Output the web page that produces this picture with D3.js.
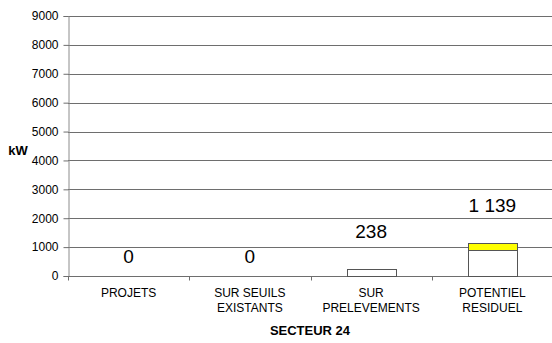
<!DOCTYPE html>
<html>
<head>
<meta charset="utf-8">
<script src="https://cdn.jsdelivr.net/npm/d3@7"></script>
<style>
  html, body { margin: 0; padding: 0; background: #fff; }
  svg { display: block; font-family: "Liberation Sans", Arial, Helvetica, sans-serif; }
</style>
</head>
<body>
<svg id="chart" width="552" height="343"></svg>
<script>
// Hydro-electric potential, sector 24 (kW)
const categories = [["PROJETS"], ["SUR SEUILS", "EXISTANTS"], ["SUR", "PRELEVEMENTS"], ["POTENTIEL", "RESIDUEL"]];
const baseValues = [0, 0, 238, 900];     // white part of each bar
const extraValues = [0, 0, 0, 239];      // yellow part stacked on top
const totalLabels = ["0", "0", "238", "1 139"];
const yTicks = [0, 1000, 2000, 3000, 4000, 5000, 6000, 7000, 8000, 9000];
const axisTitle = "kW";
const chartTitle = "SECTEUR 24";

const svg = d3.select("#chart");
const margin = { left: 68, right: 0, top: 16, bottom: 67 };
const W = 552, H = 343;

const x = d3.scaleBand()
  .domain(d3.range(categories.length))
  .range([margin.left, W + 1])
  .paddingInner(0.6)
  .paddingOuter(0.3);
const xOuter = d3.scaleBand().domain(d3.range(categories.length)).range([margin.left, W + 1]);
const y = d3.scaleLinear().domain([0, 9000]).range([H - margin.bottom, margin.top]);

// horizontal gridlines
svg.append("g")
  .selectAll("line")
  .data(yTicks.filter(d => d > 0))
  .join("line")
  .attr("x1", margin.left).attr("x2", W)
  .attr("y1", d => Math.round(y(d)) + 0.5).attr("y2", d => Math.round(y(d)) + 0.5)
  .attr("stroke", "#6e6e6e").attr("stroke-width", 1);

// y axis
const yAxis = svg.append("g")
  .attr("transform", `translate(${margin.left + 0.5},0)`)
  .call(d3.axisLeft(y).tickValues(yTicks).tickFormat(d3.format("d")).tickSize(5).tickPadding(5));
yAxis.select(".domain").attr("stroke", "#8c8c8c");
yAxis.selectAll(".tick line").attr("stroke", "#6e6e6e");
yAxis.selectAll(".tick text").attr("font-size", 12).attr("fill", "#000")
  .attr("font-family", "Liberation Sans, Arial, sans-serif");

// x axis line and category ticks
const baseY = Math.round(y(0)) + 0.5;
svg.append("line").attr("x1", margin.left).attr("x2", W).attr("y1", baseY).attr("y2", baseY)
  .attr("stroke", "#6e6e6e");
svg.append("g").selectAll("line")
  .data(d3.range(categories.length))
  .join("line")
  .attr("x1", i => Math.round(xOuter(i)) + 0.5).attr("x2", i => Math.round(xOuter(i)) + 0.5)
  .attr("y1", baseY).attr("y2", baseY + 4)
  .attr("stroke", "#6e6e6e");

// bars: white base
svg.append("g").selectAll("rect")
  .data(baseValues.map((v, i) => ({ v, i })).filter(d => d.v > 0))
  .join("rect")
  .attr("x", d => Math.round(x(d.i)) + 0.5)
  .attr("width", Math.round(x.bandwidth()))
  .attr("y", d => Math.round(y(d.v)) + 0.5)
  .attr("height", d => Math.round(y(0)) - Math.round(y(d.v)))
  .attr("fill", "#fff").attr("stroke", "#555");

// bars: yellow top
svg.append("g").selectAll("rect")
  .data(extraValues.map((v, i) => ({ v, i, b: baseValues[i] })).filter(d => d.v > 0))
  .join("rect")
  .attr("x", d => Math.round(x(d.i)) + 0.5)
  .attr("width", Math.round(x.bandwidth()))
  .attr("y", d => Math.round(y(d.b + d.v)) + 0.5)
  .attr("height", d => Math.round(y(d.b)) - Math.round(y(d.b + d.v)))
  .attr("fill", "#ffff00").attr("stroke", "#555");

// value labels
svg.append("g").selectAll("text")
  .data(totalLabels.map((t, i) => ({ t, i, v: baseValues[i] + extraValues[i] })))
  .join("text")
  .attr("x", d => xOuter(d.i) + xOuter.bandwidth() / 2)
  .attr("y", d => y(d.v) - (d.v > 0 ? 31 : 13))
  .attr("text-anchor", "middle")
  .attr("font-size", 19)
  .text(d => d.t);

// category labels
const catG = svg.append("g");
categories.forEach((lines, i) => {
  lines.forEach((ln, j) => {
    catG.append("text")
      .attr("x", xOuter(i) + xOuter.bandwidth() / 2)
      .attr("y", 297 + j * 15)
      .attr("text-anchor", "middle")
      .attr("font-size", 12)
      .text(ln);
  });
});

// axis title and chart title
svg.append("text").attr("x", 18).attr("y", 155).attr("text-anchor", "middle")
  .attr("font-size", 13).attr("font-weight", "bold").text(axisTitle);
svg.append("text").attr("x", (margin.left + W) / 2).attr("y", 335).attr("text-anchor", "middle")
  .attr("font-size", 13).attr("font-weight", "bold").text(chartTitle);
</script>
</body>
</html>
